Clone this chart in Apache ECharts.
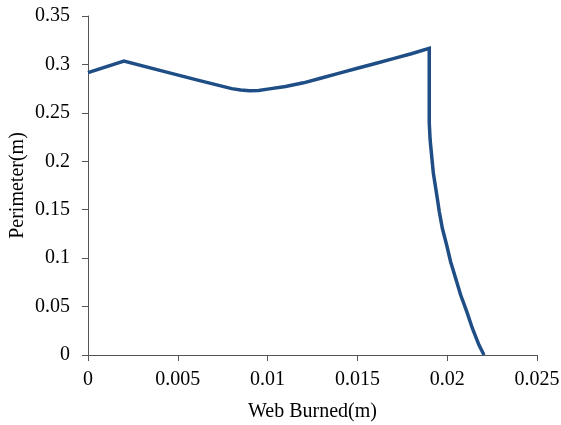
<!DOCTYPE html>
<html>
<head>
<meta charset="utf-8">
<script src="https://cdn.jsdelivr.net/npm/echarts@6/dist/echarts.min.js"></script>
<style>html,body{margin:0;padding:0;background:#fff;}#chart{width:561px;height:425px;}</style>
</head>
<body>
<div id="chart"></div>
<script>
const webBurned = [0, 0.002, 0.004, 0.006, 0.008, 0.0085, 0.009, 0.0095, 0.010, 0.011, 0.012, 0.013, 0.014, 0.015, 0.016, 0.017, 0.018, 0.0190, 0.0190, 0.01905, 0.01914, 0.01923, 0.01942, 0.01956, 0.01973, 0.01997, 0.02019, 0.02047, 0.02075, 0.02109, 0.02140, 0.02177, 0.02205];
const perimeter = [0.2915, 0.3035, 0.2939, 0.2843, 0.2750, 0.2735, 0.2728, 0.2731, 0.2745, 0.2772, 0.2810, 0.2860, 0.2910, 0.2960, 0.3010, 0.3060, 0.3110, 0.3165, 0.2400, 0.2220, 0.2047, 0.1876, 0.1652, 0.1479, 0.1308, 0.1136, 0.0963, 0.0792, 0.0619, 0.0447, 0.0276, 0.0103, 0];
const xTicks = {min: 0, max: 0.025, interval: 0.005};
const yTicks = {min: 0, max: 0.35, interval: 0.05};
const xName = 'Web Burned(m)';
const yName = 'Perimeter(m)';

const font = '"Liberation Serif", "Times New Roman", serif';
const chart = echarts.init(document.getElementById('chart'));
chart.setOption({
  backgroundColor: '#fff',
  animation: false,
  grid: {left: 88, right: 24, top: 16, bottom: 70, containLabel: false, outerBoundsMode: 'none'},
  xAxis: {
    type: 'value', min: xTicks.min, max: xTicks.max, interval: xTicks.interval,
    name: xName, nameLocation: 'middle', nameGap: 47,
    nameTextStyle: {fontFamily: font, fontSize: 20, color: '#000'},
    axisLine: {show: true, onZero: false, lineStyle: {color: '#555', width: 1}},
    axisTick: {show: true, inside: false, length: 6, lineStyle: {color: '#555'}},
    axisLabel: {fontFamily: font, fontSize: 20, color: '#000', margin: 15},
    splitLine: {show: false}
  },
  yAxis: {
    type: 'value', min: yTicks.min, max: yTicks.max, interval: yTicks.interval,
    name: yName, nameLocation: 'middle', nameGap: 60, nameMoveOverlap: false,
    nameTextStyle: {fontFamily: font, fontSize: 20, color: '#000'},
    axisLine: {show: true, onZero: false, lineStyle: {color: '#555', width: 1}},
    axisTick: {show: true, inside: false, length: 6, lineStyle: {color: '#555'}},
    axisLabel: {fontFamily: font, fontSize: 20, color: '#000', margin: 18},
    splitLine: {show: false}
  },
  series: [{
    type: 'line',
    data: webBurned.map((x, i) => [x, perimeter[i]]),
    showSymbol: false,
    smooth: false,
    lineStyle: {color: '#1F4E86', width: 3.5, join: 'miter'},
    itemStyle: {color: '#1F4E86'}
  }]
});
</script>
</body>
</html>
